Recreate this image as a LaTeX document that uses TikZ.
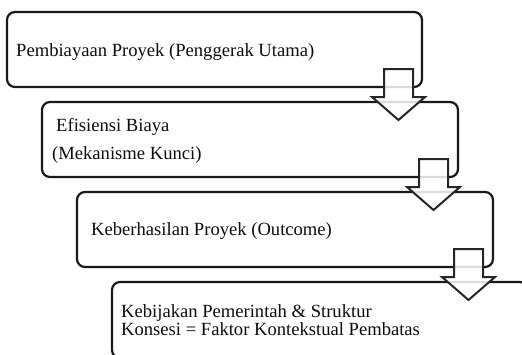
\documentclass[tikz,border=0pt]{standalone}
\usepackage{fontspec}
\setmainfont{Liberation Serif}
\tikzset{
  box/.style={draw=black!90, line width=2.2pt, rounded corners=8pt},
  blockarrow/.style={draw=black!85, line width=2pt, fill=white, fill opacity=0.85, line join=miter},
  lbl/.style={anchor=base west, inner sep=0pt, font=\fontsize{18.6}{18.6}\selectfont, text=black!95}
}
\begin{document}
\begin{tikzpicture}[x=1pt,y=-1pt]
\useasboundingbox (0,0) rectangle (522,354);
\clip (0,0) rectangle (522,354);
% boxes
\draw[box] (7,12) rectangle (422,87);
\draw[box] (42,102) rectangle (458,177);
\draw[box] (77,192) rectangle (493,267);
\draw[box] (112,282) rectangle (528,358);
% labels
\node[lbl] (t1) at (16,56) {Pembiayaan Proyek (Penggerak Utama)};
\node[lbl] (t2a) at (56,131.5) {Efisiensi Biaya};
\node[lbl] (t2b) at (52,159.5) {(Mekanisme Kunci)};
\node[lbl] (t3) at (91,235) {Keberhasilan Proyek (Outcome)};
\node[lbl] (t4a) at (121,317) {Kebijakan Pemerintah \& Struktur};
\node[lbl] (t4b) at (121,335) {Konsesi = Faktor Kontekstual Pembatas};
% block arrows
\foreach \i in {0,1,2}{
  \begin{scope}[shift={(35*\i,90*\i)}]
    \draw[blockarrow] (384,69) -- (413,69) -- (413,97) -- (425,97) -- (398.5,120) -- (372,97) -- (384,97) -- cycle;
  \end{scope}
}
\end{tikzpicture}
\end{document}
